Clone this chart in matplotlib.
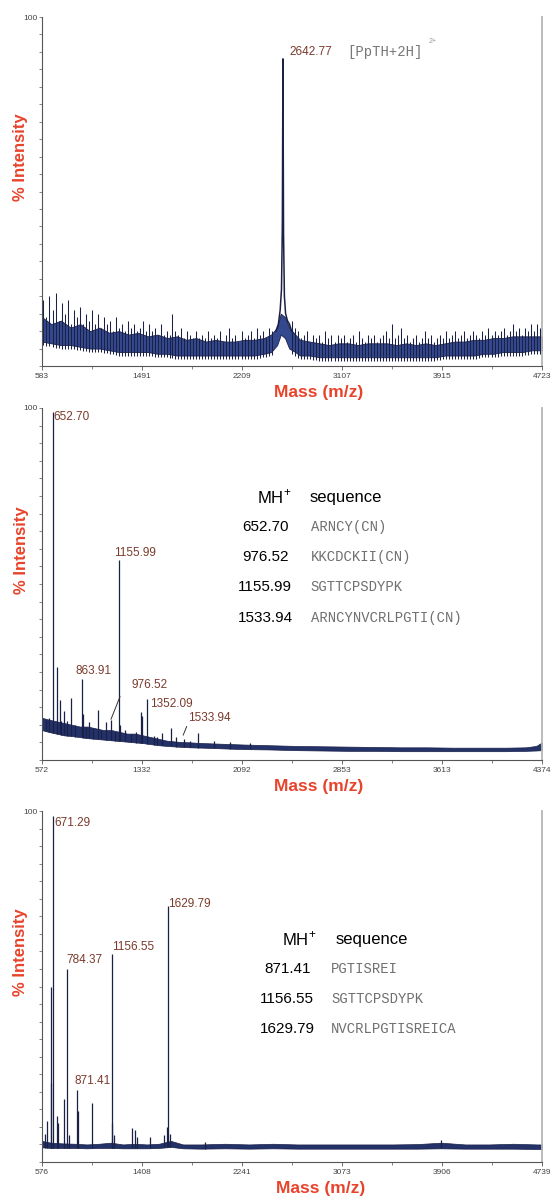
import numpy as np
import matplotlib.pyplot as plt

plt.rcParams["font.family"] = ["Liberation Sans", "DejaVu Sans"]
plt.rcParams["mathtext.fontset"] = "custom"
plt.rcParams["mathtext.rm"] = "Liberation Sans"

# ---------------- panel A : PpTH ----------------
a_xlim = (583, 4723)
a_ticklabels = ["583", "1491", "2209", "3107", "3915", "4723"]
a_band_mz = [583, 660, 740, 820, 900, 980, 1060, 1140, 1220, 1300,
             1380, 1460, 1540, 1620, 1700, 1780, 1860, 1940, 2020, 2100,
             2180, 2260, 2340, 2420, 2480, 2530, 2560, 2595, 2630, 2680,
             2720, 2800, 2880, 2960, 3040, 3120, 3200, 3280, 3360, 3440,
             3520, 3600, 3680, 3760, 3840, 3920, 4000, 4080, 4160, 4240,
             4320, 4400, 4480, 4560, 4640, 4723]
a_band_hi = [14, 12, 13, 11, 12, 10, 11, 9.5, 10, 9,
             9.5, 8.5, 9, 8, 8.5, 7.5, 8, 7, 7.5, 7,
             7, 7.5, 7.5, 8, 9, 11, 15, 14, 11, 9,
             7.5, 7, 6.5, 6, 6.5, 6.5, 6, 6.5, 6.5, 6.5,
             6, 6.5, 6, 6.5, 6, 6.5, 7, 7, 7.5, 7.5,
             8, 8, 8.5, 8.5, 8.5, 8.5]
a_band_lo = [7, 6.5, 6, 6, 5.5, 5, 5, 4.5, 4, 4,
             4, 4, 3.5, 3.5, 3, 3, 3, 3, 3, 3,
             3, 3, 3, 3.5, 4, 6, 9, 8, 5, 4,
             3, 3, 2.5, 2.5, 2.5, 2.5, 2.5, 2.5, 2.5, 2.5,
             2.5, 2.5, 2.5, 2.5, 2.5, 3, 3, 3, 3, 3.5,
             3.5, 4, 4, 4, 4.5, 4.5]
a_spike_mz = [595, 620, 645, 670, 695, 720, 745, 770, 795, 820, 845, 870, 895,
              920, 945, 970, 995, 1020, 1045, 1070, 1095, 1120, 1145, 1170,
              1195, 1220, 1245, 1270, 1295, 1320, 1345, 1370, 1395, 1420, 1445,
              1470, 1495, 1520, 1545, 1570, 1595, 1620, 1645, 1662, 1685, 1710,
              1735, 1760, 1785, 1810, 1835, 1860, 1885, 1910, 1935, 1960, 1985,
              2010, 2035, 2060, 2085, 2110, 2135, 2160, 2185, 2210, 2235, 2260,
              2285, 2310, 2335, 2360, 2385, 2410, 2435, 2460, 2485,
              2655, 2680, 2705, 2730, 2755, 2780, 2805, 2830, 2855, 2880, 2905,
              2930, 2955, 2980, 3005, 3030, 3055, 3080, 3105, 3130, 3155, 3180,
              3205, 3230, 3255, 3280, 3305, 3330, 3355, 3380, 3405, 3430, 3455,
              3480, 3505, 3530, 3555, 3580, 3605, 3630, 3655, 3680, 3705, 3730,
              3755, 3780, 3805, 3830, 3855, 3880, 3905, 3930, 3955, 3980, 4005,
              4030, 4055, 4080, 4105, 4130, 4155, 4180, 4205, 4230, 4255, 4280,
              4305, 4330, 4355, 4380, 4405, 4430, 4455, 4480, 4505, 4530, 4555,
              4580, 4605, 4630, 4655, 4680, 4705]
a_spike_int = [19, 14, 20, 16, 21, 13, 18, 15, 19, 12, 16, 14, 17,
               12, 15, 13, 16, 12, 15, 11, 14, 12, 13, 10,
               14, 11, 12, 10, 13, 11, 12, 10, 11, 13, 10,
               12, 10, 11, 9, 12, 9, 10, 9, 15, 10, 9,
               11, 8, 10, 9, 8, 10, 8, 9, 8, 10, 8,
               9, 8, 10, 7, 9, 11, 8, 9, 7, 10, 8,
               9, 10, 8, 11, 9, 10, 8, 11, 10,
               13, 11, 10, 8, 9, 10, 7, 9, 8, 9, 7,
               10, 8, 9, 7, 9, 8, 9, 7, 8, 9, 7,
               10, 8, 7, 9, 8, 9, 7, 8, 9, 10, 8,
               12, 8, 9, 11, 8, 9, 7, 8, 9, 7, 8,
               10, 8, 9, 7, 8, 9, 8, 10, 8, 9, 10,
               8, 9, 10, 8, 9, 10, 9, 8, 10, 9, 11,
               9, 10, 9, 10, 11, 9, 10, 12, 10, 11, 9,
               11, 10, 12, 10, 12, 11]
a_peak_mz = [2520, 2540, 2555, 2566, 2573, 2578, 2583, 2590, 2600, 2615, 2632, 2650]
a_peak_int = [10, 12, 16, 22, 40, 88, 38, 20, 15, 13, 12, 10]

# ---------------- panel B ----------------
b_xlim = (572, 4374)
b_ticklabels = ["572", "1332", "2092", "2853", "3613", "4374"]
b_band_mz = [572, 620, 680, 740, 800, 860, 920, 980, 1040, 1100, 1160, 1220,
             1280, 1340, 1400, 1460, 1520, 1600, 1700, 1800, 1950, 2100, 2300,
             2500, 2700, 2900, 3100, 3300, 3500, 3700, 3900, 4100, 4250, 4330, 4374]
b_band_hi = [12, 11.5, 11, 10.5, 10, 9.5, 9.5, 9, 8.5, 8.5, 8, 7.5,
             7.5, 7, 6.5, 6, 5.5, 5.2, 5, 4.8, 4.6, 4.4, 4.2,
             4, 3.9, 3.8, 3.7, 3.6, 3.6, 3.5, 3.5, 3.5, 3.6, 4, 5]
b_band_lo = [8.5, 8, 7.5, 7, 6.8, 6.5, 6.2, 6, 5.8, 5.6, 5.4, 5.2,
             5, 4.8, 4.5, 4.2, 4, 3.8, 3.6, 3.5, 3.3, 3.1, 3,
             2.8, 2.7, 2.6, 2.6, 2.5, 2.5, 2.5, 2.5, 2.5, 2.6, 2.7, 2.8]
b_peak_mz = [658, 684, 709, 741, 792, 874, 885, 932, 1000, 1059, 1097, 1160,
             1168, 1325, 1335, 1368, 1482, 1550, 1590, 1650, 1760, 1880,
             600, 625, 720, 765, 825, 905, 960, 1020, 1130, 1200, 1250, 1290,
             1420, 1450, 1700, 2000, 2150]
b_peak_int = [99, 26.5, 17, 14, 17.5, 22.9, 13, 10.9, 14.2, 10.9, 11.5, 56.9,
              10, 13.7, 12.5, 17.2, 7.6, 9.2, 6.5, 6, 7.6, 5.5,
              11.5, 12, 11, 11, 10, 9.5, 9, 8.5, 8, 8.5, 7.5, 8,
              6.8, 6.5, 5.5, 5, 4.7]
b_labels = ["652.70", "1155.99", "863.91", "976.52", "1352.09", "1533.94"]
b_table_mh = ["652.70", "976.52", "1155.99", "1533.94"]
b_table_seq = ["ARNCY(CN)", "KKCDCKII(CN)", "SGTTCPSDYPK", "ARNCYNVCRLPGTI(CN)"]

# ---------------- panel C ----------------
c_xlim = (576, 4739)
c_ticklabels = ["576", "1408", "2241", "3073", "3906", "4739"]
c_band_mz = [576, 650, 750, 850, 950, 1050, 1150, 1250, 1350, 1450, 1550, 1650,
             1750, 1900, 2100, 2300, 2500, 2700, 2900, 3100, 3300, 3500, 3700,
             3900, 4100, 4300, 4500, 4700, 4739]
c_band_hi = [6, 5.5, 5.3, 5.2, 5, 5.2, 5.5, 5, 5.2, 5, 5.2, 6,
             5, 5, 5.2, 5, 5.2, 5, 5, 5, 5, 5, 5.1,
             5.5, 5, 5, 5.2, 5, 5]
c_band_lo = [4.2, 4, 4, 4, 3.9, 4, 4, 3.9, 3.9, 3.9, 4, 4.3,
             3.9, 3.8, 3.9, 3.8, 3.9, 3.8, 3.8, 3.8, 3.8, 3.8, 3.8,
             3.9, 3.8, 3.8, 3.8, 3.7, 3.7]
c_peak_mz = [605, 618, 647, 655, 664, 698, 712, 759, 784, 800, 870, 878, 990,
             1156, 1162, 1172, 1323, 1350, 1370, 1475, 1594, 1615, 1628, 1640,
             1933, 3896]
c_peak_int = [8, 11.8, 50, 22.6, 98.6, 13.1, 11, 17.9, 55, 7.6, 20.4, 14.4, 16.8,
              59.4, 11, 7.8, 9.6, 9.1, 7.2, 7.2, 7.6, 9.9, 73, 8,
              5.6, 6.4]
c_labels = ["671.29", "1629.79", "1156.55", "784.37", "871.41"]
c_table_mh = ["871.41", "1156.55", "1629.79"]
c_table_seq = ["PGTISREI", "SGTTCPSDYPK", "NVCRLPGTISREICA"]

NAVY = "#24326a"
BLUE = "#34488e"
DARK = "#1a2046"
BROWN = "#7a3a2c"
RED = "#e8432b"
W, H = 555, 1199

fig = plt.figure(figsize=(W / 100, H / 100), dpi=100)


def make_axes(top_px, bottom_px, xlim, ticklabels):
    ax = fig.add_axes([42 / W, 1 - bottom_px / H, 500 / W, (bottom_px - top_px) / H])
    ax.set_xlim(*xlim)
    ax.set_ylim(0, 100)
    ticks = np.linspace(xlim[0], xlim[1], 6)
    ax.set_xticks(ticks)
    ax.set_xticklabels(ticklabels)
    ax.set_xticks((ticks[:-1] + ticks[1:]) / 2, minor=True)
    ax.set_yticks([100])
    ax.set_yticklabels(["100"])
    ax.set_yticks(np.arange(0, 100, 5), minor=True)
    ax.tick_params(axis="x", which="major", length=3, width=0.6, color="#555",
                   labelsize=6, labelcolor="#444", pad=2)
    ax.tick_params(axis="x", which="minor", length=2, width=0.5, color="#555")
    ax.tick_params(axis="y", which="both", length=2, width=0.5, color="#555",
                   labelsize=6, labelcolor="#444", pad=1)
    ax.spines["top"].set_visible(False)
    ax.spines["right"].set_color("#b5b5b5")
    ax.spines["right"].set_linewidth(1.3)
    for s in ("left", "bottom"):
        ax.spines[s].set_color("#555")
        ax.spines[s].set_linewidth(0.8)
    return ax


def draw_spectrum(ax, band_mz, band_lo, band_hi, pk_mz, pk_int, lw=0.9):
    ax.fill_between(band_mz, band_lo, band_hi, color=NAVY, lw=0.5, edgecolor=DARK)
    base = np.interp(pk_mz, band_mz, band_lo)
    ax.vlines(pk_mz, base, pk_int, color=DARK, lw=lw)


def axis_labels(ylab_px, xlab_px):
    fig.text(ylab_px[0] / W, 1 - ylab_px[1] / H, "% Intensity", rotation=90,
             color=RED, fontsize=12, fontweight="bold", ha="center", va="center")
    fig.text(xlab_px[0] / W, 1 - xlab_px[1] / H, "Mass (m/z)",
             color=RED, fontsize=12.5, fontweight="bold", ha="center", va="center")


def table(ax, mh_x, seq_x, head_y, rows_y, mh_list, seq_list):
    ax.text(mh_x[0], head_y, "MH$^{+}$", fontsize=12, ha="center", va="center")
    ax.text(seq_x[0], head_y, "sequence", fontsize=12, ha="left", va="center")
    for y, mh, seq in zip(rows_y, mh_list, seq_list):
        ax.text(mh_x[1], y, mh, fontsize=11, ha="center", va="center")
        ax.text(seq_x[1], y, seq, fontsize=10, ha="left", va="center",
                family="Liberation Mono", color="#707070")


# ---- panel A
ax1 = make_axes(17, 366, a_xlim, a_ticklabels)
ax1.fill_between(a_band_mz, a_band_lo, a_band_hi, color=BLUE, lw=0.6, edgecolor=DARK)
base = np.interp(a_spike_mz, a_band_mz, a_band_lo) - 1.0
ax1.vlines(a_spike_mz, base, a_spike_int, color=DARK, lw=0.75)
ax1.plot(a_peak_mz, a_peak_int, color=DARK, lw=1.1)
ax1.text(2628, 90, "2642.77", color=BROWN, fontsize=8.5, ha="left", va="center")
ax1.text(3108, 90, "[PpTH+2H]", color="#777", fontsize=10, ha="left",
         va="center", family="Liberation Mono")
ax1.text(3783, 93, "2+", color="#999", fontsize=5, ha="left", va="center")
axis_labels((21, 157), (319, 393))

# ---- panel B
ax2 = make_axes(408, 760, b_xlim, b_ticklabels)
draw_spectrum(ax2, b_band_mz, b_band_lo, b_band_hi, b_peak_mz, b_peak_int)
b_label_xy = [(659, 97.5), (1120, 58.9), (823, 25.3), (1249, 21.3), (1393, 15.8), (1682, 11.8)]
for txt, (x, y) in zip(b_labels, b_label_xy):
    ax2.text(x, y, txt, color=BROWN, fontsize=8.5, ha="left", va="center")
ax2.plot([1165, 1097], [18, 11.6], color="#333", lw=0.7)
ax2.plot([1672, 1646], [9.5, 7.1], color="#333", lw=0.7)
table(ax2, (2336, 2269), (2604, 2617), 74.6, [66.1, 57.8, 49.1, 40.3],
      b_table_mh, b_table_seq)
axis_labels((22, 550), (319, 786))

# ---- panel C
ax3 = make_axes(811, 1162, c_xlim, c_ticklabels)
draw_spectrum(ax3, c_band_mz, c_band_lo, c_band_hi, c_peak_mz, c_peak_int)
c_label_xy = [(678, 96.7), (1625, 73.5), (1158, 61.3), (782, 57.5), (845, 23.1)]
for txt, (x, y) in zip(c_labels, c_label_xy):
    ax3.text(x, y, txt, color=BROWN, fontsize=8.5, ha="left", va="center")
table(ax3, (2715, 2617), (3020, 2985), 63.5, [55, 46.4, 37.8],
      c_table_mh, c_table_seq)
axis_labels((21, 952), (321, 1189))

fig.savefig("out.png", dpi=100)
